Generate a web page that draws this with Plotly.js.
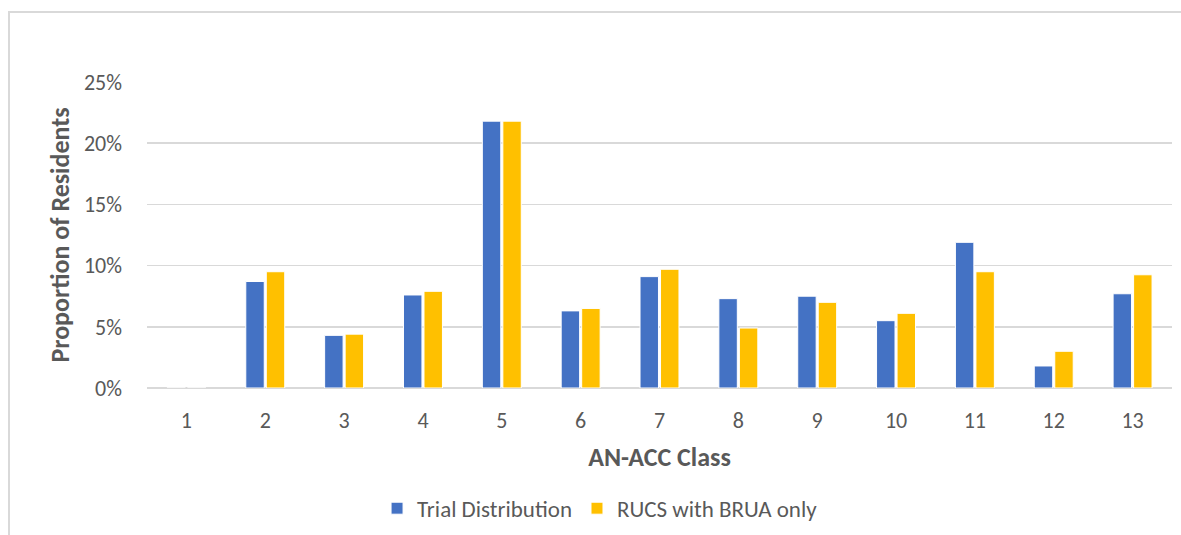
<!DOCTYPE html>
<html>
<head>
<meta charset="utf-8">
<script src="https://cdn.plot.ly/plotly-3.0.1.min.js"></script>
<style>
html,body{margin:0;padding:0;background:#fff;}
#frame{position:absolute;left:8px;top:11px;width:1180px;height:530px;border-top:2px solid #d9d9d9;border-left:2px solid #d9d9d9;}
#chart{position:absolute;left:0;top:0;width:1181px;height:535px;}
</style>
</head>
<body>
<div id="frame"></div>
<div id="chart"></div>
<script>
const categories = ["1","2","3","4","5","6","7","8","9","10","11","12","13"];
const trialDistribution = [0, 8.7, 4.3, 7.6, 21.8, 6.3, 9.1, 7.3, 7.5, 5.5, 11.9, 1.8, 7.7];
const rucsBruaOnly = [0, 9.5, 4.4, 7.9, 21.8, 6.5, 9.7, 4.9, 7.0, 6.1, 9.5, 3.0, 9.25];
const yTicks = [0, 5, 10, 15, 20, 25];
const yTickLabels = yTicks.map(v => v + '%');

const font = "Carlito, Calibri, Lato, 'Open Sans', sans-serif";
const data = [
  {type:'bar', name:'Trial Distribution', x:categories, y:trialDistribution,
   marker:{color:'#4472c4', line:{color:'#ffffff', width:1}}},
  {type:'bar', name:'RUCS with BRUA only', x:categories, y:rucsBruaOnly,
   marker:{color:'#ffc000', line:{color:'#ffffff', width:1}}}
];
const layout = {
  width:1181, height:535,
  paper_bgcolor:'rgba(0,0,0,0)', plot_bgcolor:'rgba(0,0,0,0)',
  margin:{l:147, r:9, t:82, b:147},
  barmode:'group', bargap:0.48, bargroupgap:0.1,
  font:{family:font, color:'#595959', size:22},
  xaxis:{type:'category', tickfont:{size:22, color:'#595959'}, ticks:'', showgrid:false,
    showline:false, zeroline:false, ticklabelstandoff:17, automargin:false,
    title:{text:'<b>AN-ACC Class</b>', font:{size:26, color:'#595959'}, standoff:14}},
  yaxis:{range:[0,25], tickvals:yTicks, ticktext:yTickLabels, tickfont:{size:22, color:'#595959'},
    gridcolor:'#d9d9d9', gridwidth:1.5, zeroline:true, zerolinecolor:'#d9d9d9', zerolinewidth:1.5,
    showline:false, ticks:'', ticklabelstandoff:24, automargin:false,
    title:{text:'<b>Proportion of Residents</b>', font:{size:26, color:'#595959'}, standoff:6}},
  showlegend:true,
  legend:{orientation:'h', x:0.442, xanchor:'center', yref:'container', y:0.05, yanchor:'middle',
    font:{size:23, color:'#595959'}, traceorder:'normal', itemwidth:30}
};
Plotly.newPlot('chart', data, layout, {displayModeBar:false, staticPlot:true});
</script>
</body>
</html>
